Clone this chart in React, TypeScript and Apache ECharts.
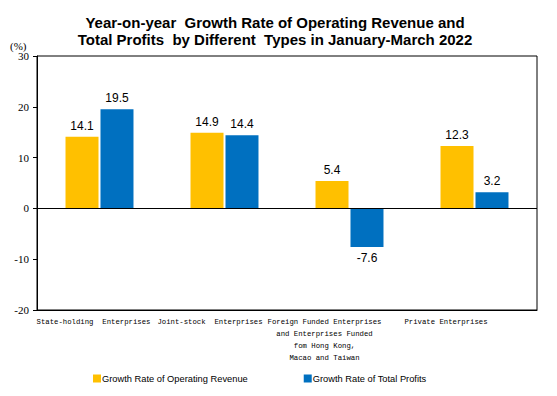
import React, { useEffect, useRef } from "react";
import * as echarts from "echarts";

const categories = [
  "State-holding  Enterprises",
  "Joint-stock  Enterprises",
  "Foreign Funded Enterprises\nand Enterprises Funded\nfom Hong Kong,\nMacao and Taiwan",
  "Private Enterprises",
];
const revenueGrowth = [14.1, 14.9, 5.4, 12.3];
const profitGrowth = [19.5, 14.4, -7.6, 3.2];
const yTicks = { min: -20, max: 30, interval: 10 };
const labelShift = [12, 29, 50, 57];

const seriesNames = ["Growth Rate of Operating Revenue", "Growth Rate of Total Profits"];

export default function App() {
  const ref = useRef<HTMLDivElement>(null);
  useEffect(() => {
    const chart = echarts.init(ref.current!, null, { renderer: "svg" });
    const mk = (vals: number[]) =>
      vals.map((v) => ({
        value: v,
        label: { position: v < 0 ? "bottom" : "top" },
      }));
    chart.setOption({
      animation: false,
      title: {
        text: "Year-on-year  Growth Rate of Operating Revenue and\nTotal Profits  by Different  Types in January-March 2022",
        left: 270,
        top: 9,
        textAlign: "center",
        textStyle: {
          fontFamily: "Liberation Sans",
          fontWeight: "bold",
          fontSize: 15,
          lineHeight: 17,
          color: "#000",
        },
      },
      legend: {
        bottom: 8,
        left: 88,
        itemGap: 56,
        itemWidth: 8,
        itemHeight: 8,
        icon: "rect",
        textStyle: { fontFamily: "Liberation Sans", fontSize: 9.3, color: "#000", padding: [0, 0, 0, -4] },
        data: seriesNames,
      },
      graphic: [
        {
          type: "text",
          left: 10,
          top: 40,
          style: { text: "(%)", font: "11px 'Liberation Serif'", fill: "#000" },
        },
      ],
      grid: {
        left: 37,
        right: 20,
        top: 56,
        bottom: 86,
        show: true,
        borderColor: "#000",
        borderWidth: 1,
      },
      xAxis: {
        type: "category",
        data: categories.map((c, i) => ({
          value: c,
          textStyle: { padding: [0, labelShift[i], 0, 0] },
        })),
        axisLine: { onZero: false, lineStyle: { color: "#000" } },
        axisTick: { show: false },
        axisLabel: {
          interval: 0,
          margin: 6,
          fontFamily: "Liberation Mono",
          fontSize: 7.3,
          lineHeight: 12,
          color: "#000",
        },
      },
      yAxis: {
        type: "value",
        min: yTicks.min,
        max: yTicks.max,
        interval: yTicks.interval,
        axisLine: { show: true, lineStyle: { color: "#000" } },
        axisTick: { show: true, length: 4, lineStyle: { color: "#000" } },
        splitLine: { show: false },
        axisLabel: {
          fontFamily: "Liberation Serif",
          fontSize: 11,
          color: "#000",
          margin: 8,
        },
      },
      series: [
        {
          name: seriesNames[0],
          type: "bar",
          data: mk(revenueGrowth),
          barWidth: 33,
          barGap: "6%",
          itemStyle: { color: "#FFC000" },
          label: {
            show: true,
            distance: 5,
            fontFamily: "Liberation Sans",
            fontSize: 12,
            color: "#000",
          },
          markLine: {
            silent: true,
            symbol: "none",
            label: { show: false },
            lineStyle: { color: "#000", width: 1, type: "solid" },
            data: [{ yAxis: 0 }],
          },
        },
        {
          name: seriesNames[1],
          type: "bar",
          data: mk(profitGrowth),
          barWidth: 33,
          barGap: "6%",
          itemStyle: { color: "#0070C0" },
          label: {
            show: true,
            distance: 5,
            fontFamily: "Liberation Sans",
            fontSize: 12,
            color: "#000",
          },
        },
      ],
    });
    return () => chart.dispose();
  }, []);
  return <div ref={ref} style={{ width: 557, height: 396, margin: -8 }} />;
}
